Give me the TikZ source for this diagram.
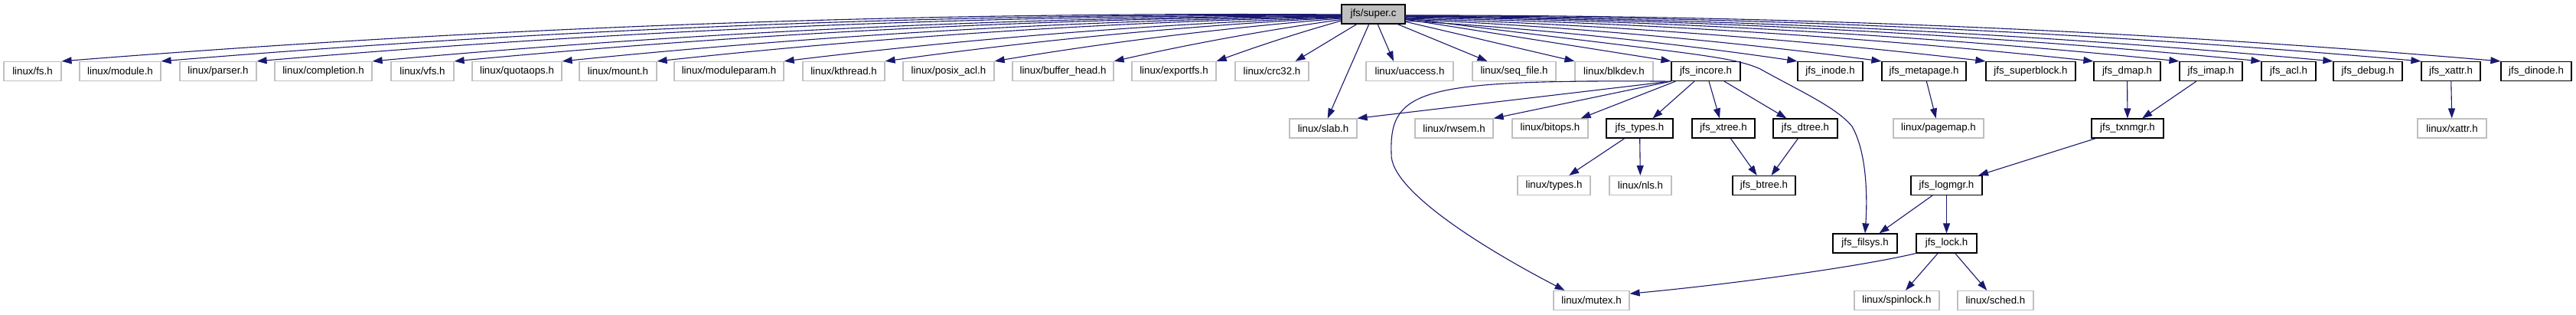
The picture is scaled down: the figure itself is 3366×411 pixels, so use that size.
\documentclass[tikz,border=0pt]{standalone}
\usepackage{fontspec}
\setmainfont{Liberation Sans}
\usetikzlibrary{arrows.meta,calc}
\definecolor{edgeblue}{HTML}{191970}
\definecolor{boxgray}{HTML}{BFBFBF}
\tikzset{
  base/.style={rectangle, minimum height=25pt, inner sep=0pt, font=\fontsize{13.3}{16}\selectfont, line width=1.2pt},
  sys/.style={base, draw=boxgray},
  loc/.style={base, draw=black},
  root/.style={base, draw=black, fill=boxgray},
  edge/.style={draw=edgeblue, line width=1.1pt, -{Triangle[length=13pt,width=9pt]}}
}
\newcommand\ledge[3]{\draw[edge] let \p1=(1753,#1), \p2=(#2.#3) in (\p1) .. controls (\x1*2/3+\x2/3, \y1*2/3+\y2/3+0.0144*\x1-0.0144*\x2) and (\x1/3+\x2*2/3, \y1/3+\y2*2/3+0.0144*\x1-0.0144*\x2) .. (\p2);}
\newcommand\redge[3]{\draw[edge] let \p1=(1836,#1), \p2=(#2.#3) in (\p1) .. controls (\x1*2/3+\x2/3, \y1*2/3+\y2/3+0.0144*\x2-0.0144*\x1) and (\x1/3+\x2*2/3, \y1/3+\y2*2/3+0.0144*\x2-0.0144*\x1) .. (\p2);}
\begin{document}
\begin{tikzpicture}[x=1pt,y=-1pt]
\fill[white] (0,0) rectangle (3366,411);
\useasboundingbox (0,0) rectangle (3366,411);
% root
\node[root, minimum width=83pt] (super) at (1794.5,18.5) {jfs/super.c};
% row 1
\node[sys, minimum width=75pt]  (fs)          at (42.5,93)   {linux/fs.h};
\node[sys, minimum width=106pt] (module)      at (157,93)    {linux/module.h};
\node[sys, minimum width=100pt] (parser)      at (285,93)    {linux/parser.h};
\node[sys, minimum width=127pt] (completion)  at (422.5,93)  {linux/completion.h};
\node[sys, minimum width=82pt]  (vfs)         at (552,93)    {linux/vfs.h};
\node[sys, minimum width=117pt] (quotaops)    at (675.5,93)  {linux/quotaops.h};
\node[sys, minimum width=101pt] (mount)       at (807.5,93)  {linux/mount.h};
\node[sys, minimum width=143pt] (moduleparam) at (952.5,93)  {linux/moduleparam.h};
\node[sys, minimum width=107pt] (kthread)     at (1102.5,93) {linux/kthread.h};
\node[sys, minimum width=119pt] (posixacl)    at (1239.5,93) {linux/posix\_acl.h};
\node[sys, minimum width=132pt] (bufferhead)  at (1389,93)   {linux/buffer\_head.h};
\node[sys, minimum width=110pt] (exportfs)    at (1534,93)   {linux/exportfs.h};
\node[sys, minimum width=96pt]  (crc)         at (1662,93)   {linux/crc32.h};
\node[sys, minimum width=114pt] (uaccess)     at (1842,93)   {linux/uaccess.h};
\node[sys, minimum width=109pt] (seqfile)     at (1978.5,93) {linux/seq\_file.h};
\node[sys, minimum width=102pt] (blkdev)      at (2109,93)   {linux/blkdev.h};
\node[loc, minimum width=90pt]  (incore)      at (2229,93)   {jfs\_incore.h};
\node[loc, minimum width=85pt]  (inode)       at (2391.5,93) {jfs\_inode.h};
\node[loc, minimum width=110pt] (metapage)    at (2514,93)   {jfs\_metapage.h};
\node[loc, minimum width=117pt] (superblock)  at (2653.5,93) {jfs\_superblock.h};
\node[loc, minimum width=87pt]  (dmap)        at (2779.5,93) {jfs\_dmap.h};
\node[loc, minimum width=82pt]  (imap)        at (2889,93)   {jfs\_imap.h};
\node[loc, minimum width=71pt]  (acl)         at (2990.5,93) {jfs\_acl.h};
\node[loc, minimum width=90pt]  (debug)       at (3094,93)   {jfs\_debug.h};
\node[loc, minimum width=77pt]  (xattr)       at (3202.5,93) {jfs\_xattr.h};
\node[loc, minimum width=92pt]  (dinode)      at (3314,93)   {jfs\_dinode.h};
% row 2
\node[sys, minimum width=88pt]  (slab)    at (1729,167.5)   {linux/slab.h};
\node[sys, minimum width=102pt] (rwsem)   at (1900,167.5)   {linux/rwsem.h};
\node[sys, minimum width=99pt]  (bitops)  at (2025.5,167.5) {linux/bitops.h};
\node[loc, minimum width=87pt]  (jtypes)  at (2142.5,167.5) {jfs\_types.h};
\node[loc, minimum width=82pt]  (xtree)   at (2252,167.5)   {jfs\_xtree.h};
\node[loc, minimum width=84pt]  (dtree)   at (2359,167.5)   {jfs\_dtree.h};
\node[sys, minimum width=118pt] (pagemap) at (2533,167.5)   {linux/pagemap.h};
\node[loc, minimum width=94pt]  (txnmgr)  at (2780,167.5)   {jfs\_txnmgr.h};
\node[sys, minimum width=90pt]  (lxattr)  at (3204,167.5)   {linux/xattr.h};
% row 3
\node[sys, minimum width=95pt] (ltypes) at (2030.5,242) {linux/types.h};
\node[sys, minimum width=81pt] (nls)    at (2143.5,242) {linux/nls.h};
\node[loc, minimum width=82pt] (btree)  at (2305,242)   {jfs\_btree.h};
\node[loc, minimum width=93pt] (logmgr) at (2543.5,242) {jfs\_logmgr.h};
% row 4
\node[loc, minimum width=84pt] (filsys) at (2437,317.5)   {jfs\_filsys.h};
\node[loc, minimum width=79pt] (lock)   at (2543.5,317.5) {jfs\_lock.h};
% row 5
\node[sys, minimum width=99pt]  (mutex)    at (2079.5,392) {linux/mutex.h};
\node[sys, minimum width=111pt] (spinlock) at (2478.5,392) {linux/spinlock.h};
\node[sys, minimum width=99pt]  (sched)    at (2607.5,392) {linux/sched.h};
% edges from super.c, left
\ledge{19}{fs}{north east}
\ledge{19.5}{module}{north east}
\ledge{20}{parser}{north east}
\ledge{20.5}{completion}{north east}
\ledge{21}{vfs}{north east}
\ledge{21.5}{quotaops}{north east}
\ledge{22}{mount}{north east}
\ledge{22.5}{moduleparam}{north east}
\ledge{23}{kthread}{north east}
\ledge{24}{posixacl}{north east}
\ledge{25.5}{bufferhead}{north east}
\ledge{27}{exportfs}{north east}
\draw[edge] (super) -- ([xshift=-18pt]crc.north east);
\draw[edge] (super) -- (slab);
\draw[edge] (super) -- ([xshift=-21pt]uaccess.north);
\draw[edge] (super) -- ([xshift=20pt]seqfile.north west);
\draw[edge] (super) -- (blkdev.north west);
\draw[edge] (super) -- (incore.north west);
% edges from super.c, right
\redge{27}{inode}{north west}
\redge{25}{metapage}{north west}
\redge{24}{superblock}{north west}
\redge{23}{dmap}{north west}
\redge{22}{imap}{north west}
\redge{21.5}{acl}{north west}
\redge{21}{debug}{north west}
\redge{20.5}{xattr}{north west}
\redge{20}{dinode}{north west}
\draw[edge] (super) .. controls (2200,70) and (2260,72) .. (2300,90) .. controls (2350,118) and (2400,140) .. (2420,165) .. controls (2440,200) and (2440,260) .. (filsys.north);
% edges from jfs_incore.h
\draw[edge] (incore.south west) -- (slab.north east);
\draw[edge] (incore.south west) -- (rwsem.north east);
\draw[edge] ([xshift=6pt]incore.south west) -- ([xshift=-10pt]bitops.north east);
\draw[edge] ([xshift=-15pt]incore.south) -- ([xshift=17pt]jtypes.north);
\draw[edge] ([xshift=4pt]incore.south) -- ([xshift=-5pt]xtree.north);
\draw[edge] ([xshift=24pt]incore.south) -- ([xshift=18pt]dtree.north west);
\draw[edge] (incore.south west) .. controls (1860,104) and (1815,115) .. (1818,200) .. controls (1815,250) and (1950,330) .. ([xshift=-35pt]mutex.north);
% other edges
\draw[edge] (jtypes) -- (ltypes);
\draw[edge] (jtypes) -- (nls);
\draw[edge] (xtree) -- (btree);
\draw[edge] (dtree) -- (btree);
\draw[edge] (metapage) -- (pagemap);
\draw[edge] (dmap) -- (txnmgr);
\draw[edge] (imap) -- (txnmgr);
\draw[edge] (xattr) -- (lxattr);
\draw[edge] (txnmgr) -- (logmgr);
\draw[edge] (logmgr) -- (filsys);
\draw[edge] (logmgr) -- (lock);
\draw[edge] (lock) -- (spinlock);
\draw[edge] (lock) -- (sched);
\draw[edge] (lock.south west) .. controls (2420,350) and (2250,372) .. (mutex.10);
\end{tikzpicture}
\end{document}
